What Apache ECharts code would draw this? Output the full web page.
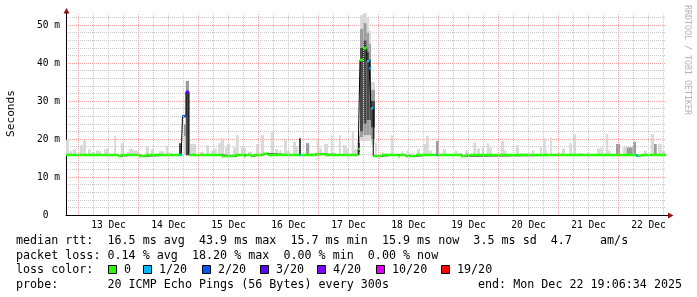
<!DOCTYPE html>
<html><head><meta charset="utf-8">
<script src="https://cdn.jsdelivr.net/npm/echarts@6/dist/echarts.min.js"></script>
<style>html,body{margin:0;padding:0;background:#fff}#c{width:697px;height:297px}</style>
</head><body><div id="c"></div>
<script>
// ---------------- data (time in hours since 12 Dec 00:00, values in ms) ----------------
const timeStart = 19.0, timeEnd = 259.0;
const yMax = 53.16;
const dayHours = [24, 48, 72, 96, 120, 144, 168, 192, 216, 240];
const sixHourHours = [30, 36, 42, 54, 60, 66, 78, 84, 90, 102, 108, 114, 126, 132, 138, 150, 156, 162,
  174, 180, 186, 198, 204, 210, 222, 228, 234, 246, 252, 258];
const dayLabelHours = [36, 60, 84, 108, 132, 156, 180, 204, 228, 252];
const dayLabels = ['13 Dec', '14 Dec', '15 Dec', '16 Dec', '17 Dec', '18 Dec', '19 Dec', '20 Dec', '21 Dec', '22 Dec'];
const yLabelValues = [0, 10, 20, 30, 40, 50];
const yLabels = ['0\u00a0\u00a0', '10 m', '20 m', '30 m', '40 m', '50 m'];

const smokeFloor = 15.7;
// smoke bars: [start, end, top, shade]  shade 0 light, 1 medium, 2 dark
const smokeBars = [
  [19.0,20.2,19.8,0],[20.2,21.4,16.8,0],[21.7,23.0,17.3,0],[23.7,24.2,16.3,0],[24.6,25.9,18.4,0],
  [25.9,27.0,19.8,0],[27.8,28.9,17.3,0],[29.3,30.6,16.6,0],[31.0,32.1,17.0,0],[32.1,33.0,16.9,0],
  [34.2,35.3,17.3,0],[35.3,36.1,17.7,0],[38.2,39.0,20.8,0],[40.9,42.2,18.9,0],[43.3,44.1,16.6,0],
  [44.2,45.8,17.4,0],[45.8,47.8,17.0,0],[50.9,52.2,18.2,0],[52.9,54.2,17.4,0],[55.3,56.1,16.3,0],
  [56.2,58.2,16.8,0],[58.9,59.8,18.3,0],[59.8,61.8,16.3,0],[68.6,71.0,18.7,0],[72.6,74.2,16.6,0],
  [75.0,76.2,18.4,0],[76.9,77.9,16.9,0],[77.9,79.3,17.4,0],[79.8,80.9,18.9,0],[80.9,82.2,20.2,0],
  [82.6,83.4,17.8,0],[83.4,84.6,18.7,0],[85.8,87.0,17.8,0],[87.0,88.1,21.0,0],[88.9,91.0,17.8,0],
  [91.8,93.4,16.6,0],[95.0,96.1,18.7,0],[96.9,98.2,21.0,0],[99.3,100.3,16.6,0],[100.9,102.2,21.8,0],
  [102.6,103.9,17.3,0],[104.3,105.3,17.0,0],[106.2,107.3,19.9,0],[107.3,108.6,17.0,0],[109.8,111.0,19.3,0],
  [111.0,111.9,17.8,0],[112.2,113.0,20.2,2],[115.0,116.3,18.9,1],[116.6,118.6,16.3,0],[119.3,120.3,19.7,0],
  [120.3,121.4,17.5,0],[122.2,123.8,18.7,0],[124.9,125.7,21.0,0],[125.8,127.0,16.3,0],[128.2,129.0,21.0,0],
  [129.8,131.3,18.4,0],[131.3,132.2,17.5,0],[133.3,134.2,22.1,0],[134.2,135.8,17.3,0],[142.6,143.4,18.9,0],
  [145.3,145.9,16.6,0],[148.9,149.9,21.0,0],[153.3,153.9,16.8,0],[155.3,155.9,17.0,0],[156.9,157.9,16.3,0],
  [159.3,160.6,17.3,0],[162.0,163.0,18.7,0],[163.0,164.1,20.8,0],[164.1,165.3,17.0,0],[167.0,168.1,19.5,1],
  [169.8,171.0,17.3,0],[174.6,175.5,17.0,0],[176.6,177.7,16.3,0],[178.6,179.7,17.0,0],[181.9,183.0,19.1,0],
  [183.3,184.6,17.5,0],[185.3,186.2,17.8,0],[187.3,188.3,18.9,0],[188.3,189.3,17.8,0],[193.0,194.3,19.5,0],
  [194.3,195.3,17.0,0],[198.9,200.2,18.4,0],[200.6,201.9,16.3,0],[202.6,203.9,16.3,0],[205.3,206.3,17.0,0],
  [208.6,209.4,17.8,0],[209.9,210.9,20.2,0],[210.9,211.5,17.0,0],[212.6,213.3,20.4,0],[215.3,216.6,16.3,0],
  [217.3,218.6,17.5,0],[220.3,221.4,18.9,0],[221.9,223.0,21.3,0],[223.9,225.3,16.3,0],[227.3,228.6,16.3,0],
  [231.4,232.7,17.5,0],[232.7,233.7,17.8,0],[234.9,235.9,21.3,0],[235.9,236.9,17.0,0],[239.0,240.6,18.7,1],
  [241.7,243.3,17.9,0],[243.3,245.7,17.8,1],[245.8,247.0,19.3,1],[248.6,249.9,16.0,0],[250.2,251.3,17.0,0],
  [252.9,254.2,21.3,0],[254.2,255.3,18.7,1],[255.8,257.3,18.7,0],[257.3,258.6,17.0,0]
];
// spike bins with full ping spread: [start, end, lo, p1, q1, q3, p3, max]
const spikeBins = [
  [64.2, 65.1, 15.7, 15.7, 15.7, 18.9, 18.9, 18.9],
  [66.2, 66.9, 15.7, 20.8, 23.9, 23.9, 23.9, 23.9],
  [66.9, 68.2, 15.7, 15.7, 15.7, 32.6, 35.3, 35.3],
  [135.9, 136.6, 15.7, 15.7, 16.5, 19.0, 21.0, 22.0],
  [136.6, 137.9, 19.5, 20.5, 22.0, 44.0, 49.0, 52.6],
  [137.9, 139.3, 19.5, 21.0, 24.0, 46.0, 50.5, 53.1],
  [139.3, 140.3, 19.5, 21.0, 25.0, 43.0, 48.0, 52.0],
  [140.3, 141.0, 19.5, 21.0, 25.0, 41.0, 45.0, 48.5],
  [141.0, 142.6, 18.5, 20.0, 23.0, 30.0, 33.0, 35.0]
];
// median rtt: [start, end, value, loss level index]
const medianSegs = [
  [19.0,39.9,15.8,0],[39.9,40.9,15.5,0],[40.9,48.3,15.8,0],[48.3,50.9,15.5,0],[50.9,64.2,15.8,0],
  [64.2,65.1,15.8,1],[65.1,65.6,15.8,0],[65.6,67.0,26.0,2],[67.0,68.2,32.4,3],[68.2,81.3,15.8,0],
  [81.3,86.6,15.5,0],[86.6,90.2,15.8,0],[90.2,91.0,15.5,0],[91.0,92.9,15.8,0],[92.9,93.9,15.5,0],
  [93.9,97.8,15.8,0],[97.8,99.8,16.1,0],[99.8,112.2,15.8,0],[112.2,113.0,15.8,1],[113.0,118.6,15.8,0],
  [118.6,122.6,16.0,0],[122.6,135.9,15.8,0],[135.9,136.6,17.4,0],[136.6,137.9,40.8,0],[137.9,139.3,43.9,0],
  [139.3,140.3,40.5,1],[140.3,141.0,38.6,1],[141.0,141.9,28.1,1],[141.9,145.3,15.5,0],[145.3,151.9,15.8,0],
  [151.9,152.6,15.5,0],[152.6,154.6,15.8,0],[154.6,155.9,15.5,0],[155.9,156.6,15.8,0],[156.6,159.0,15.5,0],
  [159.0,167.2,15.8,0],[167.2,167.8,15.8,1],[167.8,176.9,15.8,0],[176.9,179.0,15.5,0],[179.0,247.0,15.8,0],
  [247.0,247.8,15.6,1],[247.8,249.0,15.6,0],[249.0,259.0,15.8,0]
];
const lossLabels = ['0', '1/20', '2/20', '3/20', '4/20', '10/20', '19/20'];
const lossColors = ['#26ff00', '#00b8ff', '#0059ff', '#5e00ff', '#7e00ff', '#dd00ff', '#ff0000'];
const legendLines = [
  'median rtt:  16.5 ms avg  43.9 ms max  15.7 ms min  15.9 ms now  3.5 ms sd  4.7    am/s',
  'packet loss: 0.14 % avg  18.20 % max  0.00 % min  0.00 % now',
  'loss color:',
  'probe:       20 ICMP Echo Pings (56 Bytes) every 300s'
];
const endText = 'end: Mon Dec 22 19:06:34 2025';

// ---------------- layout / style ----------------
const GL = 66, GT = 13, GR = 666, GB = 215;
const mono = '"DejaVu Sans Mono", monospace';
const shadeColors = ['#d9d9d9', '#9c9c9c', '#4a4a4a'];
const gridDot = [1, 1];

const bands = [];
smokeBars.forEach(b => bands.push([b[0], b[1], smokeFloor, b[2], b[3]]));
spikeBins.forEach(s => {
  const lv = [s[2], s[3], s[4], s[5], s[6], s[7]];
  const sh = [0, 1, 2, 1, 0];
  for (let i = 0; i < 5; i++) if (lv[i + 1] > lv[i]) bands.push([s[0], s[1], lv[i], lv[i + 1], sh[i]]);
});
const stepPts = medianSegs.map(m => [m[0], m[2]]);
stepPts.push([medianSegs[medianSegs.length - 1][1], medianSegs[medianSegs.length - 1][2]]);

const chart = echarts.init(document.getElementById('c'), null, { renderer: 'canvas' });

const graphics = [];
const rowY = [241, 255.5, 270, 284.5];
legendLines.forEach((t, i) => graphics.push({ type: 'text', x: 16, y: rowY[i], style: { text: t, font: '11.7px ' + mono, fill: '#000', verticalAlign: 'middle' } }));
graphics.push({ type: 'text', x: 478, y: rowY[3], style: { text: endText, font: '11.7px ' + mono, fill: '#000', verticalAlign: 'middle' } });
const lblX = [124, 159, 218, 276, 333, 392, 457];
lossLabels.forEach((l, i) => {
  graphics.push({ type: 'rect', shape: { x: lblX[i] - 15.5, y: 265.5, width: 8, height: 8 }, style: { fill: lossColors[i], stroke: '#000', lineWidth: 1 } });
  graphics.push({ type: 'text', x: lblX[i], y: rowY[2], style: { text: l, font: '11.7px ' + mono, fill: '#000', verticalAlign: 'middle' } });
});
graphics.push({ type: 'text', x: 11, y: 113.5, rotation: Math.PI / 2, style: { text: 'Seconds', font: '11.2px ' + mono, fill: '#000', align: 'center', verticalAlign: 'middle' } });
graphics.push({ type: 'text', x: 687.5, y: 60, rotation: -Math.PI / 2, style: { text: 'RRDTOOL / TOBI OETIKER', font: '8.3px ' + mono, fill: '#b4b4b4', align: 'center', verticalAlign: 'middle' } });
graphics.push({ type: 'line', shape: { x1: GR, y1: GB + 0.5, x2: GR + 2.5, y2: GB + 0.5 }, style: { stroke: '#000', lineWidth: 1 } });
graphics.push({ type: 'polygon', shape: { points: [[GR + 2, GB - 2.5], [GR + 2, GB + 3.5], [GR + 7.5, GB + 0.5]] }, style: { fill: '#9a1010' } });
graphics.push({ type: 'polygon', shape: { points: [[GL - 2.5, GT + 0.5], [GL + 3.5, GT + 0.5], [GL + 0.5, GT - 5]] }, style: { fill: '#9a1010' } });

const vLines = (hours, color) => ({
  silent: true, symbol: ['none', 'none'], label: { show: false }, animation: false,
  lineStyle: { color: color, type: gridDot, width: 1 },
  data: hours.map(h => ({ xAxis: h }))
});

chart.setOption({
  animation: false,
  backgroundColor: '#fff',
  grid: { left: GL, top: GT, width: GR - GL, height: GB - GT, containLabel: false },
  xAxis: [
    { type: 'value', min: timeStart, max: timeEnd,
      axisLine: { show: true, onZero: false, lineStyle: { color: '#000', width: 1 } },
      axisTick: { show: false },
      axisLabel: { customValues: dayLabelHours, formatter: v => { const i = dayLabelHours.indexOf(v); return i >= 0 ? dayLabels[i] : ''; },
        fontFamily: mono, fontSize: 9.6, color: '#000', margin: 5 },
      splitLine: { show: false } }
  ],
  yAxis: [
    { type: 'value', min: 0, max: yMax, interval: 2,
      axisLine: { show: false }, axisTick: { show: false }, axisLabel: { show: false },
      splitLine: { show: true, showMinLine: false, showMaxLine: false, lineStyle: { color: '#c8c8c8', type: gridDot, width: 1 } } },
    { type: 'value', min: 0, max: yMax, interval: 10, position: 'left',
      axisLine: { show: true, onZero: false, lineStyle: { color: '#000', width: 1 } }, axisTick: { show: false },
      axisLabel: { formatter: v => { const i = yLabelValues.indexOf(v); return i >= 0 ? yLabels[i] : ''; },
        showMaxLabel: false, fontFamily: mono, fontSize: 9.6, color: '#000', margin: 6 },
      splitLine: { show: true, showMinLine: false, showMaxLine: false, lineStyle: { color: '#f0a0a0', type: gridDot, width: 1 } } }
  ],
  series: [
    { type: 'line', xAxisIndex: 0, yAxisIndex: 1, data: [], z: 1, markLine: vLines(sixHourHours, '#c8c8c8') },
    { type: 'line', xAxisIndex: 0, yAxisIndex: 1, data: [], z: 1, markLine: vLines(dayHours, '#f0a0a0') },
    { type: 'custom', xAxisIndex: 0, yAxisIndex: 1, clip: true, z: 2, data: bands,
      encode: { x: [0, 1], y: [2, 3] },
      renderItem: (params, api) => {
        const a = api.coord([api.value(0), api.value(3)]);
        const b = api.coord([api.value(1), api.value(2)]);
        return { type: 'rect', shape: { x: a[0], y: a[1], width: b[0] - a[0], height: b[1] - a[1] }, style: { fill: shadeColors[api.value(4)] } };
      } },
    { type: 'line', xAxisIndex: 0, yAxisIndex: 1, step: 'end', data: stepPts, symbol: 'none', z: 3,
      lineStyle: { color: '#000', width: 1 } },
    { type: 'custom', xAxisIndex: 0, yAxisIndex: 1, clip: true, z: 4, data: medianSegs,
      encode: { x: [0, 1], y: 2 },
      renderItem: (params, api) => {
        const a = api.coord([api.value(0), api.value(2)]);
        const b = api.coord([api.value(1), api.value(2)]);
        return { type: 'rect', shape: { x: a[0], y: a[1] - 1.25, width: b[0] - a[0], height: 2.5 }, style: { fill: lossColors[api.value(3)] } };
      } }
  ],
  graphic: graphics
});
</script></body></html>
